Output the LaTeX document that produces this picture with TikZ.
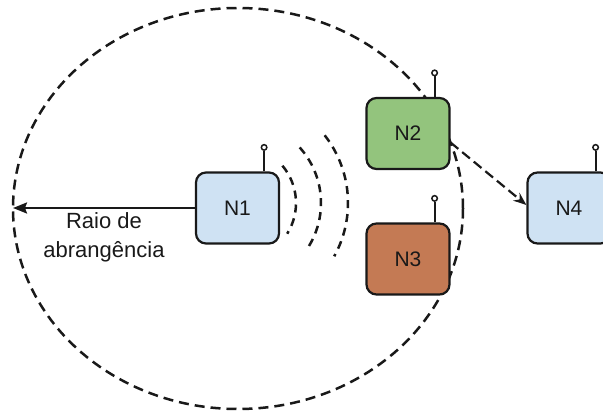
\documentclass[tikz,border=0pt]{standalone}
\usepackage{fontspec}
\setmainfont{Liberation Sans}
\usetikzlibrary{arrows.meta}
\definecolor{nodeblue}{RGB}{207,226,243}
\definecolor{nodegreen}{RGB}{147,196,125}
\definecolor{nodebrown}{RGB}{196,122,84}
\definecolor{ink}{RGB}{25,25,25}
\begin{document}
\begin{tikzpicture}[x=1pt,y=1pt,
  device/.style={draw=ink,line width=2.2pt,rounded corners=10pt,
    minimum width=83pt,minimum height=71pt,inner sep=0pt,text=ink,
    font=\fontsize{21}{25}\selectfont},
  coverage/.style={draw=ink,line width=2.5pt,dash pattern=on 10pt off 6pt},
  wavearc/.style={draw=ink,line width=2.5pt,dash pattern=on 8pt off 6pt},
  relay/.style={draw=ink,line width=2.2pt,dash pattern=on 10pt off 5pt,
    -{Stealth[length=13pt,width=10pt]}},
  reacharrow/.style={draw=ink,line width=2.2pt,-{Stealth[length=14pt,width=11pt,inset=2pt]}},
  antennastem/.style={draw=ink,line width=1.8pt},
  antennatip/.style={circle,draw=ink,fill=white,line width=1.5pt,inner sep=0pt,minimum size=5.5pt},
  labeltext/.style={font=\fontsize{22}{26}\selectfont,text=ink,anchor=base}]
  \path[use as bounding box,clip] (0,0) rectangle (603,-411);

  % coverage range of N1
  \draw[coverage] (238,-208.5) ellipse [x radius=225, y radius=200.5];
  \coordinate (rim) at (13,-208);

  % radio waves leaving N1
  \draw[wavearc] (238,-203) ++(40:58) arc[start angle=40,end angle=-32,radius=58];
  \draw[wavearc] (238,-203) ++(42:83) arc[start angle=42,end angle=-34,radius=83];
  \draw[wavearc] (238,-203) ++(38:110) arc[start angle=38,end angle=-29,radius=110];

  % devices
  \node[device,fill=nodeblue]  (n1) at (237.5,-208) {N1};
  \node[device,fill=nodegreen] (n2) at (408,-133.5) {N2};
  \node[device,fill=nodebrown] (n3) at (408,-259) {N3};
  \node[device,fill=nodeblue]  (n4) at (569,-208) {N4};

  % antennas
  \foreach \n in {n1,n2,n3,n4}
    \draw[antennastem] ([xshift=-16pt]\n.north east) -- ++(0,20.5) node[antennatip,anchor=south] {};

  % forwarding from N2 to N4
  \draw[relay] (n2.-12) -- (n4.176);

  % radius of coverage
  \draw[reacharrow] (n1.west) -- (rim);
  \node[labeltext] (lab1) at (104,-228.3) {Raio de};
  \node[labeltext] (lab2) at (104,-257.7) {abrangência};
\end{tikzpicture}
\end{document}
